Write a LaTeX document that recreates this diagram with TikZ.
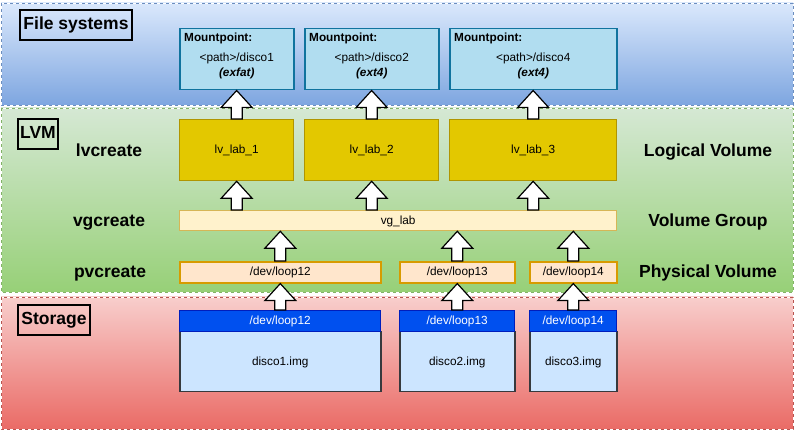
\documentclass[tikz,border=0pt]{standalone}
\usepackage{fontspec}
\setmainfont{Liberation Sans}
\usetikzlibrary{calc}

\definecolor{fsTop}{HTML}{DAE8FC}
\definecolor{fsBot}{HTML}{7EA6E0}
\definecolor{fsLine}{HTML}{6C8EBF}
\definecolor{lvmTop}{HTML}{D5E8D4}
\definecolor{lvmBot}{HTML}{97D077}
\definecolor{lvmLine}{HTML}{82B366}
\definecolor{stTop}{HTML}{F8CECC}
\definecolor{stBot}{HTML}{EA6B66}
\definecolor{stLine}{HTML}{B85450}
\definecolor{mpFill}{HTML}{B1DDF0}
\definecolor{mpLine}{HTML}{10739E}
\definecolor{lvFill}{HTML}{E3C800}
\definecolor{lvLine}{HTML}{B09500}
\definecolor{vgFill}{HTML}{FFF2CC}
\definecolor{vgLine}{HTML}{D6B656}
\definecolor{pvFill}{HTML}{FFE6CC}
\definecolor{pvLine}{HTML}{D79B00}
\definecolor{devFill}{HTML}{0050EF}
\definecolor{devLine}{HTML}{001DBC}
\definecolor{imgFill}{HTML}{CCE5FF}
\definecolor{imgLine}{HTML}{36393D}

\begin{document}
\begin{tikzpicture}[x=1pt, y=-1pt,
    bandline/.style={draw=#1, line width=0.8pt, dash pattern=on 3pt off 3pt},
    layertitle/.style={draw, line width=1.1pt, inner sep=0pt, text height=12.5pt, text depth=3.5pt,
      font=\fontsize{17.5}{20}\selectfont\bfseries},
    sidetext/.style={inner sep=0pt, text height=13pt, text depth=0pt, font=\fontsize{17.5}{20}\selectfont\bfseries},
    box/.style={rectangle, anchor=north west, inner sep=0pt, text height=9pt, text depth=2pt,
      font=\fontsize{11.8}{14}\selectfont},
    mpbox/.style={box, draw=mpLine, fill=mpFill, line width=1.5pt, minimum height=61pt},
    lvbox/.style={box, draw=lvLine, fill=lvFill, line width=1.3pt, minimum height=61pt},
    vgbox/.style={box, draw=vgLine, fill=vgFill, line width=1.3pt, minimum height=20pt},
    pvbox/.style={box, draw=pvLine, fill=pvFill, line width=1.6pt, minimum height=21pt},
    devbox/.style={box, draw=devLine, fill=devFill, line width=1.3pt, minimum height=21pt, text=white},
    imgbox/.style={box, draw=imgLine, fill=imgFill, line width=1.5pt, minimum height=60pt},
    smalltext/.style={inner sep=0pt, text height=9pt, text depth=2pt, font=\fontsize{11.8}{14}\selectfont},
    blockarrow/.style={draw=black, fill=white, line width=1.2pt, line join=miter}
  ]
  \useasboundingbox (0,0) rectangle (796,430);

  % background layers
  \shade[top color=fsTop, bottom color=fsBot, draw=white, line width=0.8pt] (1,3) rectangle (793,105);
  \draw[bandline=fsLine] (1,3) rectangle (793,105);
  \shade[top color=lvmTop, bottom color=lvmBot, draw=white, line width=0.8pt] (1,108) rectangle (793,292);
  \draw[bandline=lvmLine] (1,108) rectangle (793,292);
  \shade[top color=stTop, bottom color=stBot, draw=white, line width=0.8pt] (1,297) rectangle (793,429);
  \draw[bandline=stLine] (1,297) rectangle (793,429);

  \node[layertitle, minimum width=112pt, minimum height=30pt] (fstitle) at (76,25) {File systems};
  \node[layertitle, minimum width=40pt, minimum height=30pt] (lvmtitle) at (38,134) {LVM};
  \node[layertitle, minimum width=72pt, minimum height=30pt] (sttitle) at (54,320) {Storage};

  \node[sidetext] (lvcreate) at (109,150) {lvcreate};
  \node[sidetext] (vgcreate) at (109,220) {vgcreate};
  \node[sidetext] (pvcreate) at (110,271) {pvcreate};
  \node[sidetext] (lvlabel) at (708,150) {Logical Volume};
  \node[sidetext] (vglabel) at (708,220) {Volume Group};
  \node[sidetext] (pvlabel) at (708,271) {Physical Volume};

  % file systems
  \node[mpbox, minimum width=114pt] (mp1) at (179,28) {};
  \node[mpbox, minimum width=134pt] (mp2) at (304,28) {};
  \node[mpbox, minimum width=167pt] (mp3) at (449,28) {};
  \foreach \mp/\disk/\fs in {mp1/disco1/exfat, mp2/disco2/ext4, mp3/disco4/ext4} {
    \node[smalltext, font=\fontsize{11.8}{14}\selectfont\bfseries, anchor=west] (\mp-title) at ($(\mp.north west)+(5,10)$) {Mountpoint:};
    \node[smalltext] (\mp-path) at ($(\mp.north)+(0,30)$) {<path>/\disk};
    \node[smalltext, font=\fontsize{11.8}{14}\selectfont\bfseries\itshape] (\mp-fs) at ($(\mp.north)+(0,45)$) {(\fs)};
  }

  % logical volumes
  \node[lvbox, minimum width=114pt] (lv1) at (179,119) {lv\_lab\_1};
  \node[lvbox, minimum width=134pt] (lv2) at (304,119) {lv\_lab\_2};
  \node[lvbox, minimum width=167pt] (lv3) at (449,119) {lv\_lab\_3};

  % volume group
  \node[vgbox, minimum width=437pt] (vg) at (179,210) {vg\_lab};

  % physical volumes
  \node[pvbox, minimum width=201pt] (pv1) at (179,261) {/dev/loop12};
  \node[pvbox, minimum width=115pt] (pv2) at (399,261) {/dev/loop13};
  \node[pvbox, minimum width=87pt] (pv3) at (529,261) {/dev/loop14};

  % storage
  \node[imgbox, minimum width=201pt] (img1) at (179,331) {disco1.img};
  \node[imgbox, minimum width=115pt] (img2) at (399,331) {disco2.img};
  \node[imgbox, minimum width=87pt] (img3) at (529,331) {disco3.img};
  \node[devbox, minimum width=201pt] (dev1) at (179,310) {/dev/loop12};
  \node[devbox, minimum width=115pt] (dev2) at (399,310) {/dev/loop13};
  \node[devbox, minimum width=87pt] (dev3) at (529,310) {/dev/loop14};

  % block arrows
  \foreach \src/\dst/\col in {lv1/mp1/lv1, lv2/mp2/lv2, lv3/mp3/lv3,
                               vg/lv1/lv1, vg/lv2/lv2, vg/lv3/lv3,
                               pv1/vg/pv1, pv2/vg/pv2, pv3/vg/pv3,
                               dev1/pv1/pv1, dev2/pv2/pv2, dev3/pv3/pv3} {
    \coordinate (tail) at (\col.center |- \src.north);
    \coordinate (tip) at (\col.center |- \dst.south);
    \draw[blockarrow] ($(tail)+(-5.5,0)$) -- ($(tip)+(-5.5,17)$) -- ($(tip)+(-15.5,17)$) -- (tip)
      -- ($(tip)+(15.5,17)$) -- ($(tip)+(5.5,17)$) -- ($(tail)+(5.5,0)$) -- cycle;
  }
\end{tikzpicture}
\end{document}
